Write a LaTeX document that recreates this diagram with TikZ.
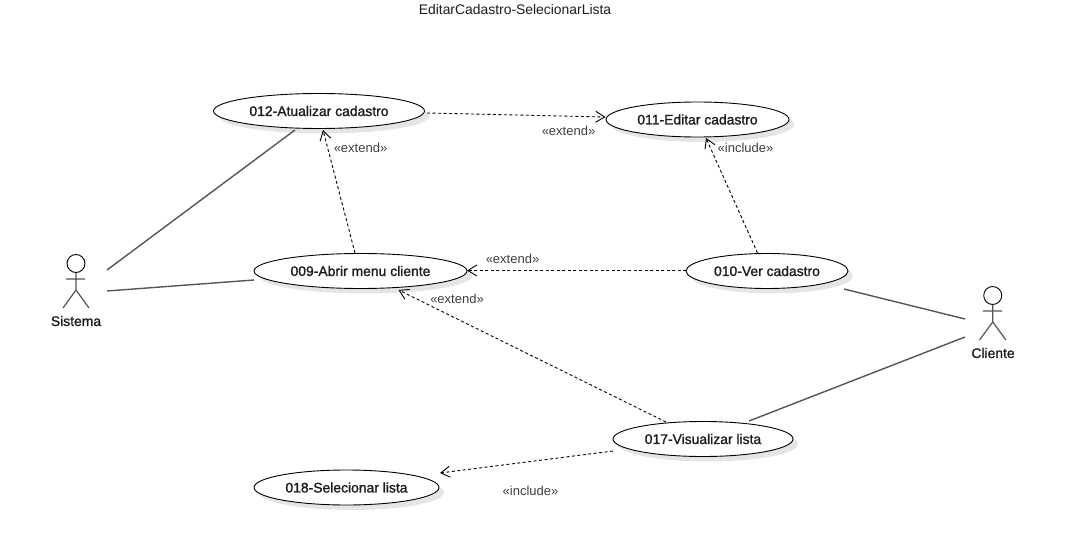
\documentclass[tikz,border=0pt]{standalone}
\usepackage{fontspec}
\setmainfont{Liberation Sans}
\newfontfamily\heavyface[FakeBold=1.2]{Liberation Sans}
\usetikzlibrary{shapes.geometric,arrows.meta,shadows}
\definecolor{assoc}{HTML}{555555}
\definecolor{inktext}{HTML}{1c1c1c}
\tikzset{
  usecase/.style={ellipse,draw=black,line width=0.9pt,fill=white,inner sep=0pt,
    minimum height=35pt,font=\fontsize{13.9}{16}\selectfont\heavyface,text=inktext,
    drop shadow={shadow xshift=5pt,shadow yshift=-5pt,fill=black!10,opacity=1}},
  assocline/.style={draw=assoc,line width=1.4pt},
  depline/.style={draw=black,line width=0.9pt,dash pattern=on 3pt off 2.5pt,
    -{Straight Barb[length=9pt,width=11pt,line width=0.9pt]}},
  stereo/.style={font=\fontsize{13}{15}\selectfont,text=inktext!85,inner sep=0pt},
  actorlabel/.style={font=\fontsize{13.9}{16}\selectfont\heavyface,text=inktext,inner sep=0pt},
  actorline/.style={draw=assoc,line width=1.2pt},
  headcircle/.style={circle,draw=black,line width=0.9pt,minimum size=18pt,inner sep=0pt},
}
\begin{document}
\begin{tikzpicture}[x=1pt,y=-1pt]
\useasboundingbox (0,0) rectangle (1065,556);
\node[font=\fontsize{13.9}{16}\selectfont,text=inktext,inner sep=0pt] (title) at (515,10) {EditarCadastro-SelecionarLista};

\node[usecase,minimum width=211pt] (u012) at (319,111) {012-Atualizar cadastro};
\node[usecase,minimum width=183pt] (u011) at (697.5,119.5) {011-Editar cadastro};
\node[usecase,minimum width=213pt] (u009) at (360.5,271) {009-Abrir menu cliente};
\node[usecase,minimum width=162pt] (u010) at (767,271) {010-Ver cadastro};
\node[usecase,minimum width=180pt] (u017) at (703,439) {017-Visualizar lista};
\node[usecase,minimum width=185pt] (u018) at (346.5,487.5) {018-Selecionar lista};

% Sistema
\node[headcircle] (sh) at (76,263.5) {};
\coordinate (sb) at (76,290);
\coordinate (sal) at (66,279); \coordinate (sar) at (85,279);
\coordinate (sll) at (63,308); \coordinate (slr) at (89,308);
\draw[actorline] (sh.south) -- (sb) (sal) -- (sar) (sll) -- (sb) -- (slr);
\node[actorlabel] (sistema) at (76,321) {Sistema};
\coordinate (s1) at (107,270); \coordinate (s2) at (107,291);

% Cliente
\node[headcircle] (ch) at (992.7,295.5) {};
\coordinate (cb) at (992.7,322);
\coordinate (cal) at (983,311); \coordinate (car) at (1002,311);
\coordinate (cll) at (979.5,340); \coordinate (clr) at (1006,340);
\draw[actorline] (ch.south) -- (cb) (cal) -- (car) (cll) -- (cb) -- (clr);
\node[actorlabel] (cliente) at (993,353) {Cliente};
\coordinate (c1) at (965,319); \coordinate (c2) at (965,337);

% associations (end points given as offsets from the node centres)
\draw[assocline] (s1) -- ([shift={(-24,19)}]u012.center);
\draw[assocline] (s2) -- ([shift={(-106.5,9)}]u009.center);
\draw[assocline] (c1) -- ([shift={(77,18)}]u010.center);
\draw[assocline] (c2) -- ([shift={(46,-18)}]u017.center);

% dependencies
\draw[depline] ([shift={(108,2)}]u012.center) -- ([shift={(-92,-2.5)}]u011.center);
\draw[depline] ([shift={(-5.5,-18)}]u009.center) -- ([shift={(4,19)}]u012.center);
\draw[depline] ([shift={(-9.5,-18)}]u010.center) -- ([shift={(8.5,18.5)}]u011.center);
\draw[depline] ([shift={(-81,-0.5)}]u010.center) -- ([shift={(106.5,-0.5)}]u009.center);
\draw[depline] ([shift={(-37,-17)}]u017.center) -- ([shift={(38,19)}]u009.center);
\draw[depline] ([shift={(-90,12)}]u017.center) -- ([shift={(93.5,-14.5)}]u018.center);

% stereotypes
\node[stereo] (l1) at (360.5,147.5) {«extend»};
\node[stereo] (l2) at (568.5,130.5) {«extend»};
\node[stereo] (l3) at (745.5,147.5) {«include»};
\node[stereo] (l4) at (512.5,258.5) {«extend»};
\node[stereo] (l5) at (457,298.5) {«extend»};
\node[stereo] (l6) at (530.5,490.5) {«include»};
\end{tikzpicture}
\end{document}
